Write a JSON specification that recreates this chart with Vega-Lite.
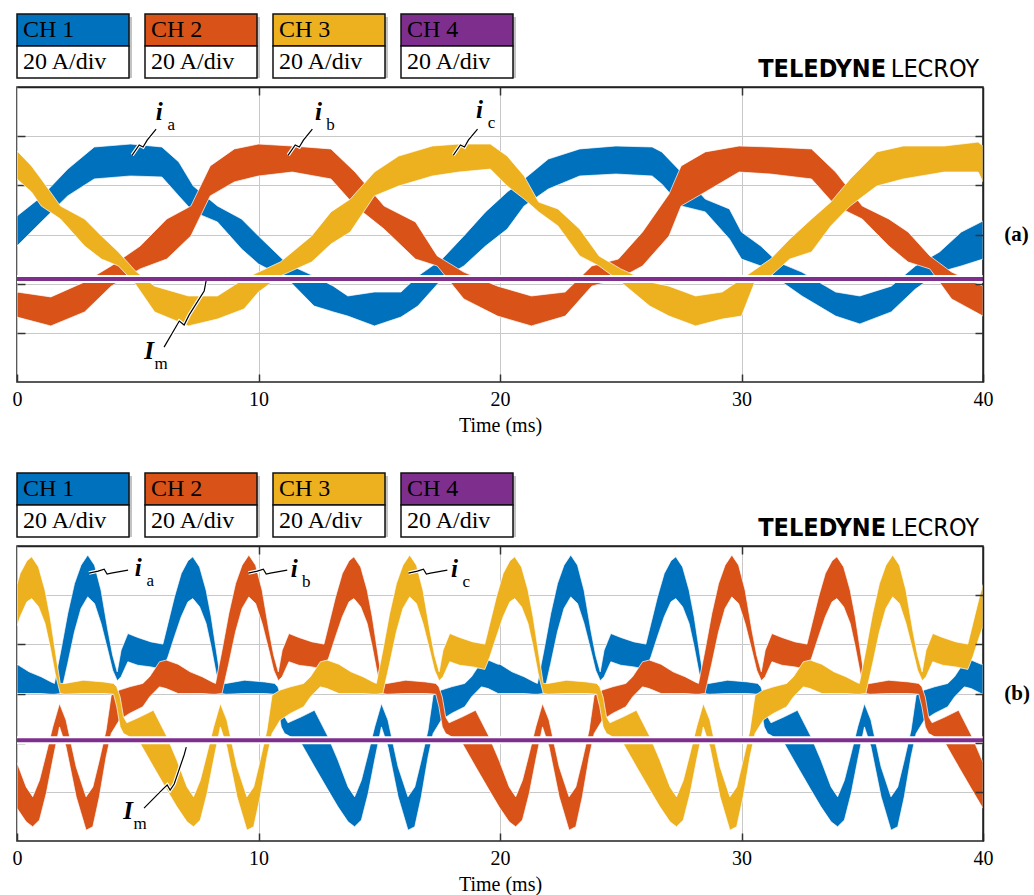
{
"$schema": "https://vega.github.io/schema/vega-lite/v6.json",
"padding": {"left": 11, "top": 13, "right": 0, "bottom": 0},
"background": "white",
"config": {"view": {"stroke": "#222222", "strokeWidth": 1.5}, "font": "Liberation Serif"},
"datasets": {
"one": [{"k": 1}],
"legend": [{"ch": "CH 1", "div": "20 A/div"}, {"ch": "CH 2", "div": "20 A/div"}, {"ch": "CH 3", "div": "20 A/div"}, {"ch": "CH 4", "div": "20 A/div"}],
"labels": [
{"panel": "a", "t": 5.89, "v": 49.8, "m": "i", "s": "a"},
{"panel": "a", "t": 12.48, "v": 49.8, "m": "i", "s": "b"},
{"panel": "a", "t": 19.15, "v": 50.6, "m": "i", "s": "c"},
{"panel": "a", "t": 5.47, "v": -47.4, "m": "I", "s": "m"},
{"panel": "b", "t": 5.02, "v": 51.1, "m": "i", "s": "a"},
{"panel": "b", "t": 11.48, "v": 50.6, "m": "i", "s": "b"},
{"panel": "b", "t": 18.11, "v": 50.6, "m": "i", "s": "c"},
{"panel": "b", "t": 4.6, "v": -47.8, "m": "I", "s": "m"}
],
"leaders": [
{"panel": "a", "id": "ia", "k": 1, "t": 4.77, "v": 32.3}, {"panel": "a", "id": "ia", "k": 2, "t": 5.06, "v": 36.4}, {"panel": "a", "id": "ia", "k": 3, "t": 5.22, "v": 35.6}, {"panel": "a", "id": "ia", "k": 4, "t": 5.39, "v": 38.4}, {"panel": "a", "id": "ia", "k": 5, "t": 5.76, "v": 42.9},
{"panel": "a", "id": "ib", "k": 1, "t": 11.23, "v": 32.3}, {"panel": "a", "id": "ib", "k": 2, "t": 11.52, "v": 36.4}, {"panel": "a", "id": "ib", "k": 3, "t": 11.69, "v": 35.6}, {"panel": "a", "id": "ib", "k": 4, "t": 11.86, "v": 38.4}, {"panel": "a", "id": "ib", "k": 5, "t": 12.23, "v": 42.9},
{"panel": "a", "id": "ic", "k": 1, "t": 18.07, "v": 32.3}, {"panel": "a", "id": "ic", "k": 2, "t": 18.36, "v": 36.4}, {"panel": "a", "id": "ic", "k": 3, "t": 18.53, "v": 35.6}, {"panel": "a", "id": "ic", "k": 4, "t": 18.69, "v": 38.4}, {"panel": "a", "id": "ic", "k": 5, "t": 19.07, "v": 42.9},
{"panel": "a", "id": "im", "k": 1, "t": 6.09, "v": -45.8}, {"panel": "a", "id": "im", "k": 2, "t": 6.72, "v": -35.2}, {"panel": "a", "id": "im", "k": 3, "t": 6.92, "v": -36.8}, {"panel": "a", "id": "im", "k": 4, "t": 7.13, "v": -32.7}, {"panel": "a", "id": "im", "k": 5, "t": 7.75, "v": -23.0}, {"panel": "a", "id": "im", "k": 6, "t": 7.83, "v": -18.9},
{"panel": "b", "id": "ia", "k": 1, "t": 2.98, "v": 49.0}, {"panel": "b", "id": "ia", "k": 2, "t": 3.36, "v": 49.8}, {"panel": "b", "id": "ia", "k": 3, "t": 3.61, "v": 50.6}, {"panel": "b", "id": "ia", "k": 4, "t": 3.73, "v": 48.6}, {"panel": "b", "id": "ia", "k": 5, "t": 3.9, "v": 49.0}, {"panel": "b", "id": "ia", "k": 6, "t": 4.6, "v": 50.2},
{"panel": "b", "id": "ib", "k": 1, "t": 9.58, "v": 49.0}, {"panel": "b", "id": "ib", "k": 2, "t": 9.95, "v": 49.8}, {"panel": "b", "id": "ib", "k": 3, "t": 10.2, "v": 50.6}, {"panel": "b", "id": "ib", "k": 4, "t": 10.32, "v": 48.6}, {"panel": "b", "id": "ib", "k": 5, "t": 10.49, "v": 49.0}, {"panel": "b", "id": "ib", "k": 6, "t": 11.19, "v": 50.2},
{"panel": "b", "id": "ic", "k": 1, "t": 16.21, "v": 49.0}, {"panel": "b", "id": "ic", "k": 2, "t": 16.58, "v": 49.8}, {"panel": "b", "id": "ic", "k": 3, "t": 16.83, "v": 50.6}, {"panel": "b", "id": "ic", "k": 4, "t": 16.95, "v": 48.6}, {"panel": "b", "id": "ic", "k": 5, "t": 17.12, "v": 49.0}, {"panel": "b", "id": "ic", "k": 6, "t": 17.82, "v": 50.2},
{"panel": "b", "id": "im", "k": 1, "t": 5.26, "v": -46.6}, {"panel": "b", "id": "im", "k": 2, "t": 6.05, "v": -38.8}, {"panel": "b", "id": "im", "k": 3, "t": 6.22, "v": -37.2}, {"panel": "b", "id": "im", "k": 4, "t": 6.34, "v": -39.3}, {"panel": "b", "id": "im", "k": 5, "t": 6.51, "v": -36.8}, {"panel": "b", "id": "im", "k": 6, "t": 6.92, "v": -25.0}, {"panel": "b", "id": "im", "k": 7, "t": 7.01, "v": -21.8}
],
"wa": [
{"p":"ia","t":0.0,"hi":7.5,"lo":-4.7},{"p":"ia","t":1.0,"hi":15.3,"lo":5.1},{"p":"ia","t":2.1,"hi":26.6,"lo":15.7},{"p":"ia","t":3.2,"hi":35.6,"lo":22.6},{"p":"ia","t":4.7,"hi":36.8,"lo":23.8},{"p":"ia","t":6.0,"hi":35.6,"lo":23.4},{"p":"ia","t":6.7,"hi":29.5,"lo":15.7},{"p":"ia","t":7.3,"hi":19.7,"lo":9.2},{"p":"ia","t":8.3,"hi":11.6,"lo":5.1},{"p":"ia","t":9.3,"hi":6.3,"lo":-5.9},{"p":"ia","t":10.0,"hi":-0.6,"lo":-12.0},{"p":"ia","t":11.2,"hi":-12.0,"lo":-18.1},{"p":"ia","t":12.3,"hi":-16.9,"lo":-29.1},{"p":"ia","t":13.1,"hi":-21.0,"lo":-31.5},{"p":"ia","t":13.7,"hi":-25.0,"lo":-33.2},{"p":"ia","t":14.8,"hi":-23.4,"lo":-37.2},{"p":"ia","t":15.9,"hi":-23.4,"lo":-33.6},{"p":"ia","t":16.6,"hi":-16.9,"lo":-29.1},{"p":"ia","t":17.6,"hi":-10.0,"lo":-18.1},{"p":"ia","t":18.5,"hi":-0.6,"lo":-12.8},{"p":"ia","t":19.4,"hi":9.2,"lo":-4.7},{"p":"ia","t":20.3,"hi":17.3,"lo":2.2},{"p":"ia","t":21.0,"hi":22.6,"lo":11.6},{"p":"ia","t":22.0,"hi":30.7,"lo":18.5},{"p":"ia","t":23.3,"hi":34.8,"lo":23.8},{"p":"ia","t":24.8,"hi":36.0,"lo":24.6},{"p":"ia","t":26.3,"hi":35.6,"lo":23.8},{"p":"ia","t":26.7,"hi":33.6,"lo":20.5},{"p":"ia","t":27.5,"hi":25.4,"lo":11.6},{"p":"ia","t":28.5,"hi":14.4,"lo":9.2},{"p":"ia","t":29.5,"hi":10.4,"lo":-1.8},{"p":"ia","t":30.0,"hi":1.0,"lo":-10.0},{"p":"ia","t":30.8,"hi":-4.7,"lo":-12.8},{"p":"ia","t":31.5,"hi":-11.2,"lo":-18.1},{"p":"ia","t":32.5,"hi":-15.3,"lo":-25.0},{"p":"ia","t":33.9,"hi":-23.4,"lo":-33.2},{"p":"ia","t":34.9,"hi":-25.0,"lo":-36.4},{"p":"ia","t":36.2,"hi":-21.0,"lo":-31.5},{"p":"ia","t":37.2,"hi":-12.8,"lo":-22.2},{"p":"ia","t":38.2,"hi":-7.1,"lo":-15.3},{"p":"ia","t":39.1,"hi":1.0,"lo":-12.8},{"p":"ia","t":40.0,"hi":5.5,"lo":-10.0},
{"p":"ib","t":0.0,"hi":-23.4,"lo":-33.6},{"p":"ib","t":1.4,"hi":-25.4,"lo":-37.2},{"p":"ib","t":2.8,"hi":-19.3,"lo":-31.5},{"p":"ib","t":3.9,"hi":-12.8,"lo":-21.0},{"p":"ib","t":5.1,"hi":-4.7,"lo":-14.0},{"p":"ib","t":6.2,"hi":6.3,"lo":-10.0},{"p":"ib","t":7.2,"hi":11.6,"lo":-0.6},{"p":"ib","t":8.0,"hi":27.9,"lo":15.7},{"p":"ib","t":9.0,"hi":34.8,"lo":21.4},{"p":"ib","t":10.0,"hi":36.8,"lo":23.8},{"p":"ib","t":11.4,"hi":36.0,"lo":25.4},{"p":"ib","t":13.0,"hi":34.8,"lo":22.6},{"p":"ib","t":14.0,"hi":25.4,"lo":11.6},{"p":"ib","t":15.2,"hi":11.6,"lo":2.2},{"p":"ib","t":16.5,"hi":5.1,"lo":-10.0},{"p":"ib","t":17.4,"hi":-8.7,"lo":-12.8},{"p":"ib","t":18.5,"hi":-15.3,"lo":-26.2},{"p":"ib","t":19.9,"hi":-21.0,"lo":-33.2},{"p":"ib","t":21.3,"hi":-25.0,"lo":-37.2},{"p":"ib","t":22.7,"hi":-23.4,"lo":-33.2},{"p":"ib","t":23.8,"hi":-12.8,"lo":-21.0},{"p":"ib","t":24.9,"hi":-10.0,"lo":-18.1},{"p":"ib","t":25.9,"hi":1.0,"lo":-12.8},{"p":"ib","t":27.0,"hi":16.5,"lo":-0.6},{"p":"ib","t":27.5,"hi":27.9,"lo":11.6},{"p":"ib","t":28.5,"hi":33.6,"lo":17.3},{"p":"ib","t":29.9,"hi":36.0,"lo":25.4},{"p":"ib","t":31.2,"hi":35.6,"lo":24.6},{"p":"ib","t":32.9,"hi":34.8,"lo":22.6},{"p":"ib","t":33.9,"hi":25.4,"lo":11.6},{"p":"ib","t":35.0,"hi":11.6,"lo":6.3},{"p":"ib","t":36.1,"hi":6.3,"lo":-4.7},{"p":"ib","t":36.9,"hi":1.0,"lo":-11.2},{"p":"ib","t":37.8,"hi":-8.7,"lo":-14.0},{"p":"ib","t":38.7,"hi":-15.3,"lo":-26.2},{"p":"ib","t":40.0,"hi":-21.0,"lo":-33.2},
{"p":"ic","t":0.0,"hi":34.0,"lo":22.6},{"p":"ic","t":0.6,"hi":27.9,"lo":17.3},{"p":"ic","t":1.0,"hi":22.6,"lo":11.6},{"p":"ic","t":1.8,"hi":11.6,"lo":6.3},{"p":"ic","t":2.8,"hi":6.3,"lo":-4.7},{"p":"ic","t":3.5,"hi":-0.6,"lo":-10.0},{"p":"ic","t":4.2,"hi":-7.1,"lo":-12.8},{"p":"ic","t":4.9,"hi":-14.8,"lo":-20.1},{"p":"ic","t":5.7,"hi":-21.0,"lo":-31.5},{"p":"ic","t":7.1,"hi":-25.0,"lo":-37.2},{"p":"ic","t":8.3,"hi":-25.0,"lo":-34.4},{"p":"ic","t":9.4,"hi":-18.1,"lo":-30.3},{"p":"ic","t":10.0,"hi":-15.3,"lo":-23.4},{"p":"ic","t":10.9,"hi":-11.2,"lo":-16.9},{"p":"ic","t":12.2,"hi":-0.6,"lo":-11.2},{"p":"ic","t":13.0,"hi":9.2,"lo":-3.9},{"p":"ic","t":13.8,"hi":14.4,"lo":1.0},{"p":"ic","t":14.8,"hi":25.4,"lo":15.7},{"p":"ic","t":15.8,"hi":31.9,"lo":19.7},{"p":"ic","t":17.2,"hi":36.0,"lo":23.8},{"p":"ic","t":18.3,"hi":36.8,"lo":25.4},{"p":"ic","t":19.6,"hi":36.8,"lo":26.6},{"p":"ic","t":20.3,"hi":31.9,"lo":19.7},{"p":"ic","t":21.0,"hi":23.8,"lo":14.4},{"p":"ic","t":21.6,"hi":13.2,"lo":9.2},{"p":"ic","t":22.4,"hi":10.4,"lo":3.5},{"p":"ic","t":23.3,"hi":2.2,"lo":-8.7},{"p":"ic","t":24.1,"hi":-8.7,"lo":-12.8},{"p":"ic","t":25.0,"hi":-14.0,"lo":-19.3},{"p":"ic","t":26.2,"hi":-19.3,"lo":-29.1},{"p":"ic","t":27.0,"hi":-21.0,"lo":-33.2},{"p":"ic","t":28.1,"hi":-25.0,"lo":-37.2},{"p":"ic","t":29.2,"hi":-23.4,"lo":-34.4},{"p":"ic","t":30.0,"hi":-18.1,"lo":-33.2},{"p":"ic","t":30.6,"hi":-14.0,"lo":-18.1},{"p":"ic","t":31.2,"hi":-10.0,"lo":-16.9},{"p":"ic","t":32.0,"hi":-1.8,"lo":-10.0},{"p":"ic","t":32.9,"hi":6.3,"lo":-7.1},{"p":"ic","t":33.7,"hi":13.2,"lo":3.5},{"p":"ic","t":34.5,"hi":22.6,"lo":11.6},{"p":"ic","t":35.6,"hi":33.6,"lo":19.7},{"p":"ic","t":36.7,"hi":36.0,"lo":22.6},{"p":"ic","t":38.4,"hi":36.0,"lo":25.4},{"p":"ic","t":39.8,"hi":37.6,"lo":25.4},{"p":"ic","t":40.0,"hi":36.0,"lo":21.4}
],
"wb": [
{"p":"ia","t":0.0,"hi":11.9,"lo":0},{"p":"ia","t":0.5,"hi":8.8,"lo":0},{"p":"ia","t":1.0,"hi":6.8,"lo":0},{"p":"ia","t":1.41,"hi":4.7,"lo":-0.3},{"p":"ia","t":1.55,"hi":4.1,"lo":-0.3},{"p":"ia","t":1.82,"hi":17.6,"lo":0},{"p":"ia","t":2.1,"hi":32.5,"lo":12.2},{"p":"ia","t":2.38,"hi":44.7,"lo":25.1},{"p":"ia","t":2.65,"hi":52.2,"lo":34.6},{"p":"ia","t":2.93,"hi":56.3,"lo":39.3},{"p":"ia","t":3.21,"hi":52.2,"lo":36.6},{"p":"ia","t":3.48,"hi":42.0,"lo":28.5},{"p":"ia","t":3.76,"hi":25.8,"lo":17.6},{"p":"ia","t":3.96,"hi":15.6,"lo":9.5},{"p":"ia","t":4.15,"hi":8.8,"lo":5.2},{"p":"ia","t":4.31,"hi":17.6,"lo":6.8},{"p":"ia","t":4.59,"hi":24.4,"lo":12.9},{"p":"ia","t":5.0,"hi":22.8,"lo":11.5},{"p":"ia","t":5.55,"hi":21.0,"lo":10.8},{"p":"ia","t":6.04,"hi":20.1,"lo":9.8},{"p":"ia","t":6.25,"hi":28.5,"lo":14.9},{"p":"ia","t":6.52,"hi":39.3,"lo":23.1},{"p":"ia","t":6.8,"hi":48.8,"lo":31.2},{"p":"ia","t":7.08,"hi":54.0,"lo":37.3},{"p":"ia","t":7.28,"hi":55.6,"lo":38.6},{"p":"ia","t":7.56,"hi":51.5,"lo":35.3},{"p":"ia","t":7.83,"hi":42.0,"lo":28.5},{"p":"ia","t":8.04,"hi":31.2,"lo":19.0},{"p":"ia","t":8.25,"hi":17.6,"lo":8.1},{"p":"ia","t":8.46,"hi":4.1,"lo":0},{"p":"ia","t":8.66,"hi":4.1,"lo":-0.3},{"p":"ia","t":9.42,"hi":5.4,"lo":0},{"p":"ia","t":10.25,"hi":4.7,"lo":0},{"p":"ia","t":10.67,"hi":4.1,"lo":-0.3},{"p":"ia","t":10.8,"hi":2.7,"lo":-5.4},{"p":"ia","t":10.94,"hi":-1.4,"lo":-13.6},{"p":"ia","t":11.08,"hi":-9.5,"lo":-16.3},{"p":"ia","t":11.22,"hi":-11.9,"lo":-17.0},{"p":"ia","t":11.77,"hi":-9.5,"lo":-20.3},{"p":"ia","t":12.32,"hi":-6.8,"lo":-29.8},{"p":"ia","t":12.88,"hi":-17.6,"lo":-39.3},{"p":"ia","t":13.29,"hi":-27.1,"lo":-46.1},{"p":"ia","t":13.71,"hi":-38.0,"lo":-52.2},{"p":"ia","t":13.98,"hi":-42.0,"lo":-54.2},{"p":"ia","t":14.26,"hi":-35.3,"lo":-51.5},{"p":"ia","t":14.54,"hi":-24.4,"lo":-40.7},{"p":"ia","t":14.81,"hi":-13.6,"lo":-27.1},{"p":"ia","t":15.09,"hi":-4.1,"lo":-13.6},{"p":"ia","t":15.36,"hi":-10.8,"lo":-21.7},{"p":"ia","t":15.78,"hi":-29.8,"lo":-42.0},{"p":"ia","t":16.19,"hi":-42.0,"lo":-55.6},{"p":"ia","t":16.47,"hi":-38.0,"lo":-54.2},{"p":"ia","t":16.74,"hi":-27.1,"lo":-42.0},{"p":"ia","t":17.02,"hi":-14.9,"lo":-25.8},{"p":"ia","t":17.23,"hi":-0.7,"lo":-16.3},{"p":"ia","t":17.57,"hi":1.4,"lo":-10.8},{"p":"ia","t":17.99,"hi":2.7,"lo":-8.1},{"p":"ia","t":18.54,"hi":4.1,"lo":-5.4},{"p":"ia","t":18.82,"hi":6.8,"lo":-1.4},{"p":"ia","t":19.23,"hi":12.9,"lo":2.7},{"p":"ia","t":19.51,"hi":13.6,"lo":2.0},{"p":"ia","t":19.92,"hi":11.9,"lo":0},
{"p":"ia","t":20.0,"hi":11.9,"lo":0},{"p":"ia","t":20.5,"hi":8.8,"lo":0},{"p":"ia","t":21.0,"hi":6.8,"lo":0},{"p":"ia","t":21.41,"hi":4.7,"lo":-0.3},{"p":"ia","t":21.55,"hi":4.1,"lo":-0.3},{"p":"ia","t":21.82,"hi":17.6,"lo":0},{"p":"ia","t":22.1,"hi":32.5,"lo":12.2},{"p":"ia","t":22.38,"hi":44.7,"lo":25.1},{"p":"ia","t":22.65,"hi":52.2,"lo":34.6},{"p":"ia","t":22.93,"hi":56.3,"lo":39.3},{"p":"ia","t":23.21,"hi":52.2,"lo":36.6},{"p":"ia","t":23.48,"hi":42.0,"lo":28.5},{"p":"ia","t":23.76,"hi":25.8,"lo":17.6},{"p":"ia","t":23.96,"hi":15.6,"lo":9.5},{"p":"ia","t":24.15,"hi":8.8,"lo":5.2},{"p":"ia","t":24.31,"hi":17.6,"lo":6.8},{"p":"ia","t":24.59,"hi":24.4,"lo":12.9},{"p":"ia","t":25.0,"hi":22.8,"lo":11.5},{"p":"ia","t":25.55,"hi":21.0,"lo":10.8},{"p":"ia","t":26.04,"hi":20.1,"lo":9.8},{"p":"ia","t":26.25,"hi":28.5,"lo":14.9},{"p":"ia","t":26.52,"hi":39.3,"lo":23.1},{"p":"ia","t":26.8,"hi":48.8,"lo":31.2},{"p":"ia","t":27.08,"hi":54.0,"lo":37.3},{"p":"ia","t":27.28,"hi":55.6,"lo":38.6},{"p":"ia","t":27.56,"hi":51.5,"lo":35.3},{"p":"ia","t":27.83,"hi":42.0,"lo":28.5},{"p":"ia","t":28.04,"hi":31.2,"lo":19.0},{"p":"ia","t":28.25,"hi":17.6,"lo":8.1},{"p":"ia","t":28.46,"hi":4.1,"lo":0},{"p":"ia","t":28.66,"hi":4.1,"lo":-0.3},{"p":"ia","t":29.42,"hi":5.4,"lo":0},{"p":"ia","t":30.25,"hi":4.7,"lo":0},{"p":"ia","t":30.67,"hi":4.1,"lo":-0.3},{"p":"ia","t":30.8,"hi":2.7,"lo":-5.4},{"p":"ia","t":30.94,"hi":-1.4,"lo":-13.6},{"p":"ia","t":31.08,"hi":-9.5,"lo":-16.3},{"p":"ia","t":31.22,"hi":-11.9,"lo":-17.0},{"p":"ia","t":31.77,"hi":-9.5,"lo":-20.3},{"p":"ia","t":32.32,"hi":-6.8,"lo":-29.8},{"p":"ia","t":32.88,"hi":-17.6,"lo":-39.3},{"p":"ia","t":33.29,"hi":-27.1,"lo":-46.1},{"p":"ia","t":33.71,"hi":-38.0,"lo":-52.2},{"p":"ia","t":33.98,"hi":-42.0,"lo":-54.2},{"p":"ia","t":34.26,"hi":-35.3,"lo":-51.5},{"p":"ia","t":34.54,"hi":-24.4,"lo":-40.7},{"p":"ia","t":34.81,"hi":-13.6,"lo":-27.1},{"p":"ia","t":35.09,"hi":-4.1,"lo":-13.6},{"p":"ia","t":35.36,"hi":-10.8,"lo":-21.7},{"p":"ia","t":35.78,"hi":-29.8,"lo":-42.0},{"p":"ia","t":36.19,"hi":-42.0,"lo":-55.6},{"p":"ia","t":36.47,"hi":-38.0,"lo":-54.2},{"p":"ia","t":36.74,"hi":-27.1,"lo":-42.0},{"p":"ia","t":37.02,"hi":-14.9,"lo":-25.8},{"p":"ia","t":37.23,"hi":-0.7,"lo":-16.3},{"p":"ia","t":37.57,"hi":1.4,"lo":-10.8},{"p":"ia","t":37.99,"hi":2.7,"lo":-8.1},{"p":"ia","t":38.54,"hi":4.1,"lo":-5.4},{"p":"ia","t":38.82,"hi":6.8,"lo":-1.4},{"p":"ia","t":39.23,"hi":12.9,"lo":2.7},{"p":"ia","t":39.51,"hi":13.6,"lo":2.0},{"p":"ia","t":39.92,"hi":11.9,"lo":0},{"p":"ia","t":40.0,"hi":11.9,"lo":0},
{"p":"ib","t":0.0,"hi":-28.1,"lo":-46.7},{"p":"ib","t":0.38,"hi":-38.0,"lo":-52.2},{"p":"ib","t":0.65,"hi":-42.0,"lo":-54.2},{"p":"ib","t":0.93,"hi":-35.3,"lo":-51.5},{"p":"ib","t":1.21,"hi":-24.4,"lo":-40.7},{"p":"ib","t":1.48,"hi":-13.6,"lo":-27.1},{"p":"ib","t":1.76,"hi":-4.1,"lo":-13.6},{"p":"ib","t":2.03,"hi":-10.8,"lo":-21.7},{"p":"ib","t":2.45,"hi":-29.8,"lo":-42.0},{"p":"ib","t":2.86,"hi":-42.0,"lo":-55.6},{"p":"ib","t":3.14,"hi":-38.0,"lo":-54.2},{"p":"ib","t":3.41,"hi":-27.1,"lo":-42.0},{"p":"ib","t":3.69,"hi":-14.9,"lo":-25.8},{"p":"ib","t":3.9,"hi":-0.7,"lo":-16.3},{"p":"ib","t":4.24,"hi":1.4,"lo":-10.8},{"p":"ib","t":4.66,"hi":2.7,"lo":-8.1},{"p":"ib","t":5.21,"hi":4.1,"lo":-5.4},{"p":"ib","t":5.49,"hi":6.8,"lo":-1.4},{"p":"ib","t":5.9,"hi":12.9,"lo":2.7},{"p":"ib","t":6.18,"hi":13.6,"lo":2.0},{"p":"ib","t":6.67,"hi":11.9,"lo":0},{"p":"ib","t":7.17,"hi":8.8,"lo":0},{"p":"ib","t":7.67,"hi":6.8,"lo":0},{"p":"ib","t":8.08,"hi":4.7,"lo":-0.3},{"p":"ib","t":8.22,"hi":4.1,"lo":-0.3},{"p":"ib","t":8.49,"hi":17.6,"lo":0},{"p":"ib","t":8.77,"hi":32.5,"lo":12.2},{"p":"ib","t":9.05,"hi":44.7,"lo":25.1},{"p":"ib","t":9.32,"hi":52.2,"lo":34.6},{"p":"ib","t":9.6,"hi":56.3,"lo":39.3},{"p":"ib","t":9.88,"hi":52.2,"lo":36.6},{"p":"ib","t":10.15,"hi":42.0,"lo":28.5},{"p":"ib","t":10.43,"hi":25.8,"lo":17.6},{"p":"ib","t":10.63,"hi":15.6,"lo":9.5},{"p":"ib","t":10.82,"hi":8.8,"lo":5.2},{"p":"ib","t":10.98,"hi":17.6,"lo":6.8},{"p":"ib","t":11.26,"hi":24.4,"lo":12.9},{"p":"ib","t":11.67,"hi":22.8,"lo":11.5},{"p":"ib","t":12.22,"hi":21.0,"lo":10.8},{"p":"ib","t":12.71,"hi":20.1,"lo":9.8},{"p":"ib","t":12.92,"hi":28.5,"lo":14.9},{"p":"ib","t":13.19,"hi":39.3,"lo":23.1},{"p":"ib","t":13.47,"hi":48.8,"lo":31.2},{"p":"ib","t":13.75,"hi":54.0,"lo":37.3},{"p":"ib","t":13.95,"hi":55.6,"lo":38.6},{"p":"ib","t":14.23,"hi":51.5,"lo":35.3},{"p":"ib","t":14.5,"hi":42.0,"lo":28.5},{"p":"ib","t":14.71,"hi":31.2,"lo":19.0},{"p":"ib","t":14.92,"hi":17.6,"lo":8.1},{"p":"ib","t":15.13,"hi":4.1,"lo":0},{"p":"ib","t":15.33,"hi":4.1,"lo":-0.3},{"p":"ib","t":16.09,"hi":5.4,"lo":0},{"p":"ib","t":16.92,"hi":4.7,"lo":0},{"p":"ib","t":17.34,"hi":4.1,"lo":-0.3},{"p":"ib","t":17.47,"hi":2.7,"lo":-5.4},{"p":"ib","t":17.61,"hi":-1.4,"lo":-13.6},{"p":"ib","t":17.75,"hi":-9.5,"lo":-16.3},{"p":"ib","t":17.89,"hi":-11.9,"lo":-17.0},{"p":"ib","t":18.44,"hi":-9.5,"lo":-20.3},{"p":"ib","t":18.99,"hi":-6.8,"lo":-29.8},{"p":"ib","t":19.55,"hi":-17.6,"lo":-39.3},{"p":"ib","t":19.96,"hi":-27.1,"lo":-46.1},
{"p":"ib","t":20.0,"hi":-28.1,"lo":-46.7},{"p":"ib","t":20.38,"hi":-38.0,"lo":-52.2},{"p":"ib","t":20.65,"hi":-42.0,"lo":-54.2},{"p":"ib","t":20.93,"hi":-35.3,"lo":-51.5},{"p":"ib","t":21.21,"hi":-24.4,"lo":-40.7},{"p":"ib","t":21.48,"hi":-13.6,"lo":-27.1},{"p":"ib","t":21.76,"hi":-4.1,"lo":-13.6},{"p":"ib","t":22.03,"hi":-10.8,"lo":-21.7},{"p":"ib","t":22.45,"hi":-29.8,"lo":-42.0},{"p":"ib","t":22.86,"hi":-42.0,"lo":-55.6},{"p":"ib","t":23.14,"hi":-38.0,"lo":-54.2},{"p":"ib","t":23.41,"hi":-27.1,"lo":-42.0},{"p":"ib","t":23.69,"hi":-14.9,"lo":-25.8},{"p":"ib","t":23.9,"hi":-0.7,"lo":-16.3},{"p":"ib","t":24.24,"hi":1.4,"lo":-10.8},{"p":"ib","t":24.66,"hi":2.7,"lo":-8.1},{"p":"ib","t":25.21,"hi":4.1,"lo":-5.4},{"p":"ib","t":25.49,"hi":6.8,"lo":-1.4},{"p":"ib","t":25.9,"hi":12.9,"lo":2.7},{"p":"ib","t":26.18,"hi":13.6,"lo":2.0},{"p":"ib","t":26.67,"hi":11.9,"lo":0},{"p":"ib","t":27.17,"hi":8.8,"lo":0},{"p":"ib","t":27.67,"hi":6.8,"lo":0},{"p":"ib","t":28.08,"hi":4.7,"lo":-0.3},{"p":"ib","t":28.22,"hi":4.1,"lo":-0.3},{"p":"ib","t":28.49,"hi":17.6,"lo":0},{"p":"ib","t":28.77,"hi":32.5,"lo":12.2},{"p":"ib","t":29.05,"hi":44.7,"lo":25.1},{"p":"ib","t":29.32,"hi":52.2,"lo":34.6},{"p":"ib","t":29.6,"hi":56.3,"lo":39.3},{"p":"ib","t":29.88,"hi":52.2,"lo":36.6},{"p":"ib","t":30.15,"hi":42.0,"lo":28.5},{"p":"ib","t":30.43,"hi":25.8,"lo":17.6},{"p":"ib","t":30.63,"hi":15.6,"lo":9.5},{"p":"ib","t":30.82,"hi":8.8,"lo":5.2},{"p":"ib","t":30.98,"hi":17.6,"lo":6.8},{"p":"ib","t":31.26,"hi":24.4,"lo":12.9},{"p":"ib","t":31.67,"hi":22.8,"lo":11.5},{"p":"ib","t":32.22,"hi":21.0,"lo":10.8},{"p":"ib","t":32.71,"hi":20.1,"lo":9.8},{"p":"ib","t":32.92,"hi":28.5,"lo":14.9},{"p":"ib","t":33.19,"hi":39.3,"lo":23.1},{"p":"ib","t":33.47,"hi":48.8,"lo":31.2},{"p":"ib","t":33.75,"hi":54.0,"lo":37.3},{"p":"ib","t":33.95,"hi":55.6,"lo":38.6},{"p":"ib","t":34.23,"hi":51.5,"lo":35.3},{"p":"ib","t":34.5,"hi":42.0,"lo":28.5},{"p":"ib","t":34.71,"hi":31.2,"lo":19.0},{"p":"ib","t":34.92,"hi":17.6,"lo":8.1},{"p":"ib","t":35.13,"hi":4.1,"lo":0},{"p":"ib","t":35.33,"hi":4.1,"lo":-0.3},{"p":"ib","t":36.09,"hi":5.4,"lo":0},{"p":"ib","t":36.92,"hi":4.7,"lo":0},{"p":"ib","t":37.34,"hi":4.1,"lo":-0.3},{"p":"ib","t":37.47,"hi":2.7,"lo":-5.4},{"p":"ib","t":37.61,"hi":-1.4,"lo":-13.6},{"p":"ib","t":37.75,"hi":-9.5,"lo":-16.3},{"p":"ib","t":37.89,"hi":-11.9,"lo":-17.0},{"p":"ib","t":38.44,"hi":-9.5,"lo":-20.3},{"p":"ib","t":38.99,"hi":-6.8,"lo":-29.8},{"p":"ib","t":39.55,"hi":-17.6,"lo":-39.3},{"p":"ib","t":39.96,"hi":-27.1,"lo":-46.1},{"p":"ib","t":40.0,"hi":-28.1,"lo":-46.7},
{"p":"ic","t":0.0,"hi":44.3,"lo":27.4},{"p":"ic","t":0.13,"hi":48.8,"lo":31.2},{"p":"ic","t":0.41,"hi":54.0,"lo":37.3},{"p":"ic","t":0.61,"hi":55.6,"lo":38.6},{"p":"ic","t":0.89,"hi":51.5,"lo":35.3},{"p":"ic","t":1.16,"hi":42.0,"lo":28.5},{"p":"ic","t":1.37,"hi":31.2,"lo":19.0},{"p":"ic","t":1.58,"hi":17.6,"lo":8.1},{"p":"ic","t":1.79,"hi":4.1,"lo":0},{"p":"ic","t":1.99,"hi":4.1,"lo":-0.3},{"p":"ic","t":2.75,"hi":5.4,"lo":0},{"p":"ic","t":3.58,"hi":4.7,"lo":0},{"p":"ic","t":4.0,"hi":4.1,"lo":-0.3},{"p":"ic","t":4.13,"hi":2.7,"lo":-5.4},{"p":"ic","t":4.27,"hi":-1.4,"lo":-13.6},{"p":"ic","t":4.41,"hi":-9.5,"lo":-16.3},{"p":"ic","t":4.55,"hi":-11.9,"lo":-17.0},{"p":"ic","t":5.1,"hi":-9.5,"lo":-20.3},{"p":"ic","t":5.65,"hi":-6.8,"lo":-29.8},{"p":"ic","t":6.21,"hi":-17.6,"lo":-39.3},{"p":"ic","t":6.62,"hi":-27.1,"lo":-46.1},{"p":"ic","t":7.04,"hi":-38.0,"lo":-52.2},{"p":"ic","t":7.31,"hi":-42.0,"lo":-54.2},{"p":"ic","t":7.59,"hi":-35.3,"lo":-51.5},{"p":"ic","t":7.87,"hi":-24.4,"lo":-40.7},{"p":"ic","t":8.14,"hi":-13.6,"lo":-27.1},{"p":"ic","t":8.42,"hi":-4.1,"lo":-13.6},{"p":"ic","t":8.69,"hi":-10.8,"lo":-21.7},{"p":"ic","t":9.11,"hi":-29.8,"lo":-42.0},{"p":"ic","t":9.52,"hi":-42.0,"lo":-55.6},{"p":"ic","t":9.8,"hi":-38.0,"lo":-54.2},{"p":"ic","t":10.07,"hi":-27.1,"lo":-42.0},{"p":"ic","t":10.35,"hi":-14.9,"lo":-25.8},{"p":"ic","t":10.56,"hi":-0.7,"lo":-16.3},{"p":"ic","t":10.9,"hi":1.4,"lo":-10.8},{"p":"ic","t":11.32,"hi":2.7,"lo":-8.1},{"p":"ic","t":11.87,"hi":4.1,"lo":-5.4},{"p":"ic","t":12.15,"hi":6.8,"lo":-1.4},{"p":"ic","t":12.56,"hi":12.9,"lo":2.7},{"p":"ic","t":12.84,"hi":13.6,"lo":2.0},{"p":"ic","t":13.33,"hi":11.9,"lo":0},{"p":"ic","t":13.83,"hi":8.8,"lo":0},{"p":"ic","t":14.33,"hi":6.8,"lo":0},{"p":"ic","t":14.74,"hi":4.7,"lo":-0.3},{"p":"ic","t":14.88,"hi":4.1,"lo":-0.3},{"p":"ic","t":15.15,"hi":17.6,"lo":0},{"p":"ic","t":15.43,"hi":32.5,"lo":12.2},{"p":"ic","t":15.71,"hi":44.7,"lo":25.1},{"p":"ic","t":15.98,"hi":52.2,"lo":34.6},{"p":"ic","t":16.26,"hi":56.3,"lo":39.3},{"p":"ic","t":16.54,"hi":52.2,"lo":36.6},{"p":"ic","t":16.81,"hi":42.0,"lo":28.5},{"p":"ic","t":17.09,"hi":25.8,"lo":17.6},{"p":"ic","t":17.29,"hi":15.6,"lo":9.5},{"p":"ic","t":17.48,"hi":8.8,"lo":5.2},{"p":"ic","t":17.64,"hi":17.6,"lo":6.8},{"p":"ic","t":17.92,"hi":24.4,"lo":12.9},{"p":"ic","t":18.33,"hi":22.8,"lo":11.5},{"p":"ic","t":18.88,"hi":21.0,"lo":10.8},{"p":"ic","t":19.37,"hi":20.1,"lo":9.8},{"p":"ic","t":19.58,"hi":28.5,"lo":14.9},{"p":"ic","t":19.85,"hi":39.3,"lo":23.1},
{"p":"ic","t":20.0,"hi":44.3,"lo":27.4},{"p":"ic","t":20.13,"hi":48.8,"lo":31.2},{"p":"ic","t":20.41,"hi":54.0,"lo":37.3},{"p":"ic","t":20.61,"hi":55.6,"lo":38.6},{"p":"ic","t":20.89,"hi":51.5,"lo":35.3},{"p":"ic","t":21.16,"hi":42.0,"lo":28.5},{"p":"ic","t":21.37,"hi":31.2,"lo":19.0},{"p":"ic","t":21.58,"hi":17.6,"lo":8.1},{"p":"ic","t":21.79,"hi":4.1,"lo":0},{"p":"ic","t":21.99,"hi":4.1,"lo":-0.3},{"p":"ic","t":22.75,"hi":5.4,"lo":0},{"p":"ic","t":23.58,"hi":4.7,"lo":0},{"p":"ic","t":24.0,"hi":4.1,"lo":-0.3},{"p":"ic","t":24.13,"hi":2.7,"lo":-5.4},{"p":"ic","t":24.27,"hi":-1.4,"lo":-13.6},{"p":"ic","t":24.41,"hi":-9.5,"lo":-16.3},{"p":"ic","t":24.55,"hi":-11.9,"lo":-17.0},{"p":"ic","t":25.1,"hi":-9.5,"lo":-20.3},{"p":"ic","t":25.65,"hi":-6.8,"lo":-29.8},{"p":"ic","t":26.21,"hi":-17.6,"lo":-39.3},{"p":"ic","t":26.62,"hi":-27.1,"lo":-46.1},{"p":"ic","t":27.04,"hi":-38.0,"lo":-52.2},{"p":"ic","t":27.31,"hi":-42.0,"lo":-54.2},{"p":"ic","t":27.59,"hi":-35.3,"lo":-51.5},{"p":"ic","t":27.87,"hi":-24.4,"lo":-40.7},{"p":"ic","t":28.14,"hi":-13.6,"lo":-27.1},{"p":"ic","t":28.42,"hi":-4.1,"lo":-13.6},{"p":"ic","t":28.69,"hi":-10.8,"lo":-21.7},{"p":"ic","t":29.11,"hi":-29.8,"lo":-42.0},{"p":"ic","t":29.52,"hi":-42.0,"lo":-55.6},{"p":"ic","t":29.8,"hi":-38.0,"lo":-54.2},{"p":"ic","t":30.07,"hi":-27.1,"lo":-42.0},{"p":"ic","t":30.35,"hi":-14.9,"lo":-25.8},{"p":"ic","t":30.56,"hi":-0.7,"lo":-16.3},{"p":"ic","t":30.9,"hi":1.4,"lo":-10.8},{"p":"ic","t":31.32,"hi":2.7,"lo":-8.1},{"p":"ic","t":31.87,"hi":4.1,"lo":-5.4},{"p":"ic","t":32.15,"hi":6.8,"lo":-1.4},{"p":"ic","t":32.56,"hi":12.9,"lo":2.7},{"p":"ic","t":32.84,"hi":13.6,"lo":2.0},{"p":"ic","t":33.33,"hi":11.9,"lo":0},{"p":"ic","t":33.83,"hi":8.8,"lo":0},{"p":"ic","t":34.33,"hi":6.8,"lo":0},{"p":"ic","t":34.74,"hi":4.7,"lo":-0.3},{"p":"ic","t":34.88,"hi":4.1,"lo":-0.3},{"p":"ic","t":35.15,"hi":17.6,"lo":0},{"p":"ic","t":35.43,"hi":32.5,"lo":12.2},{"p":"ic","t":35.71,"hi":44.7,"lo":25.1},{"p":"ic","t":35.98,"hi":52.2,"lo":34.6},{"p":"ic","t":36.26,"hi":56.3,"lo":39.3},{"p":"ic","t":36.54,"hi":52.2,"lo":36.6},{"p":"ic","t":36.81,"hi":42.0,"lo":28.5},{"p":"ic","t":37.09,"hi":25.8,"lo":17.6},{"p":"ic","t":37.29,"hi":15.6,"lo":9.5},{"p":"ic","t":37.48,"hi":8.8,"lo":5.2},{"p":"ic","t":37.64,"hi":17.6,"lo":6.8},{"p":"ic","t":37.92,"hi":24.4,"lo":12.9},{"p":"ic","t":38.33,"hi":22.8,"lo":11.5},{"p":"ic","t":38.88,"hi":21.0,"lo":10.8},{"p":"ic","t":39.37,"hi":20.1,"lo":9.8},{"p":"ic","t":39.58,"hi":28.5,"lo":14.9},{"p":"ic","t":39.85,"hi":39.3,"lo":23.1},{"p":"ic","t":40.0,"hi":44.3,"lo":27.4}
]
},
"spacing": 36,
"vconcat": [
{"spacing": 3, "vconcat": [
 {"width": 966, "height": 64, "view": {"stroke": null},
  "layer": [
   {"data": {"name": "legend"}, "mark": {"type": "rect", "fill": "#7a7a7a", "opacity": 0.45, "xOffset": 3, "x2Offset": 3, "yOffset": 3, "y2Offset": 3},
    "encoding": {"x": {"field": "ch", "type": "nominal", "scale": {"domain": ["CH 1","CH 2","CH 3","CH 4"], "range": [0, 496], "paddingInner": 0.125, "paddingOuter": 0}, "axis": null}}},
   {"data": {"name": "legend"}, "mark": {"type": "rect", "stroke": "#111111", "strokeWidth": 1.5},
    "encoding": {"x": {"field": "ch", "type": "nominal", "axis": null}, "y": {"datum": "head", "type": "nominal", "scale": {"domain": ["head","body"], "paddingInner": 0, "paddingOuter": 0}, "axis": null},
     "fill": {"field": "ch", "type": "nominal", "scale": {"domain": ["CH 1","CH 2","CH 3","CH 4"], "range": ["#0072BD","#D95319","#EDB120","#7E2F8E"]}, "legend": null}}},
   {"data": {"name": "legend"}, "mark": {"type": "rect", "fill": "#ffffff", "stroke": "#111111", "strokeWidth": 1.5},
    "encoding": {"x": {"field": "ch", "type": "nominal", "axis": null}, "y": {"datum": "body", "type": "nominal", "axis": null}}},
   {"data": {"name": "legend"}, "mark": {"type": "text", "align": "left", "baseline": "middle", "dx": 6, "font": "Liberation Serif", "fontSize": 24, "color": "#000000"},
    "encoding": {"x": {"field": "ch", "type": "nominal", "axis": null, "bandPosition": 0}, "y": {"datum": "head", "type": "nominal", "axis": null, "bandPosition": 0.5}, "text": {"field": "ch"}}},
   {"data": {"name": "legend"}, "mark": {"type": "text", "align": "left", "baseline": "middle", "dx": 6, "font": "Liberation Serif", "fontSize": 24, "color": "#000000"},
    "encoding": {"x": {"field": "ch", "type": "nominal", "axis": null, "bandPosition": 0}, "y": {"datum": "body", "type": "nominal", "axis": null, "bandPosition": 0.5}, "text": {"field": "div"}}},
   {"data": {"values": [{"brand": "TELEDYNE", "maker": "LECROY"}]}, "mark": {"type": "text", "align": "right", "baseline": "alphabetic", "dx": -4, "dy": -1, "font": "Liberation Sans Narrow, DejaVu Sans Condensed, Roboto Condensed, Liberation Sans", "fontSize": 25, "color": "#000000"},
    "encoding": {"x": {"value": "width"}, "y": {"value": "height"}, "text": {"field": "maker"}}},
   {"data": {"values": [{"brand": "TELEDYNE", "maker": "LECROY"}]}, "mark": {"type": "text", "align": "right", "baseline": "alphabetic", "dx": -97, "dy": -1, "font": "Liberation Sans Narrow, DejaVu Sans Condensed, Roboto Condensed, Liberation Sans", "fontSize": 25, "fontWeight": "bold", "color": "#000000"},
    "encoding": {"x": {"value": "width"}, "y": {"value": "height"}, "text": {"field": "brand"}}}
  ]},
 {"width": 966, "height": 295,
  "layer": [
   {"data": {"name": "wa"}, "mark": {"type": "area", "clip": true, "stroke": "#ffffff", "strokeWidth": 0.7},
    "encoding": {
     "x": {"field": "t", "type": "quantitative", "scale": {"domain": [0, 40], "nice": false, "zero": false},
      "axis": {"orient": "bottom", "values": [0,10,20,30,40], "grid": true, "gridColor": "#c8c8c8", "gridWidth": 1, "domain": false, "ticks": true, "tickSize": -8, "tickColor": "#333333", "tickWidth": 1.5, "labelFont": "Liberation Serif", "labelFontSize": 20, "labelColor": "#000000", "labelPadding": 15, "labelFlush": false, "labelOverlap": false, "format": "d", "title": "Time (ms)", "titleFont": "Liberation Serif", "titleFontSize": 20, "titleFontWeight": "normal", "titleColor": "#000000", "titlePadding": 6}},
     "y": {"field": "hi", "type": "quantitative", "scale": {"domain": [-60, 60], "nice": false, "zero": false},
      "axis": {"orient": "left", "values": [-40,-20,0,20,40], "grid": true, "gridColor": "#c8c8c8", "gridWidth": 1, "domain": false, "ticks": true, "tickSize": -8, "tickColor": "#333333", "tickWidth": 1.5, "labels": false, "title": null}},
     "y2": {"field": "lo"},
     "color": {"field": "p", "type": "nominal", "scale": {"domain": ["ia","ib","ic"], "range": ["#0072BD","#D95319","#EDB120"]}, "legend": null}
    }},
   {"data": {"name": "one"}, "mark": {"type": "rule", "color": "#ffffff", "strokeWidth": 8}, "encoding": {"y": {"datum": -18.1, "type": "quantitative", "axis": null}}},
   {"data": {"name": "one"}, "mark": {"type": "rule", "color": "#7E2F8E", "strokeWidth": 4}, "encoding": {"y": {"datum": -18.1, "type": "quantitative", "axis": null}}},
   {"data": {"name": "leaders"}, "transform": [{"filter": "datum.panel === 'a'"}], "mark": {"type": "line", "color": "#ffffff", "strokeWidth": 3.5},
    "encoding": {"x": {"field": "t", "type": "quantitative", "axis": null}, "y": {"field": "v", "type": "quantitative", "axis": null}, "detail": {"field": "id"}, "order": {"field": "k"}}},
   {"data": {"name": "leaders"}, "transform": [{"filter": "datum.panel === 'a'"}], "mark": {"type": "line", "color": "#000000", "strokeWidth": 1.2},
    "encoding": {
     "x": {"field": "t", "type": "quantitative", "axis": {"orient": "top", "values": [10,20,30], "grid": false, "domain": true, "domainColor": "#222222", "domainWidth": 1.5, "ticks": true, "tickSize": -8, "tickColor": "#333333", "tickWidth": 1.5, "labels": false, "title": null, "zindex": 1}},
     "y": {"field": "v", "type": "quantitative", "axis": {"orient": "right", "values": [-40,-20,0,20,40], "grid": false, "domain": true, "domainColor": "#222222", "domainWidth": 1.5, "ticks": true, "tickSize": -8, "tickColor": "#333333", "tickWidth": 1.5, "labels": false, "title": "(a)", "titleAngle": 0, "titleAlign": "left", "titleBaseline": "middle", "titleFont": "Liberation Serif", "titleFontSize": 21, "titleFontWeight": "bold", "titleColor": "#000000", "titlePadding": 20, "zindex": 1}},
     "detail": {"field": "id"}, "order": {"field": "k"}}},
   {"data": {"name": "labels"}, "transform": [{"filter": "datum.panel === 'a'"}], "mark": {"type": "text", "font": "Liberation Serif", "fontSize": 25, "fontStyle": "italic", "fontWeight": "bold", "align": "center", "baseline": "middle", "color": "#000000"},
    "encoding": {"x": {"field": "t", "type": "quantitative", "axis": null}, "y": {"field": "v", "type": "quantitative", "axis": null}, "text": {"field": "m"}}},
   {"data": {"name": "labels"}, "transform": [{"filter": "datum.panel === 'a'"}], "mark": {"type": "text", "font": "Liberation Serif", "fontSize": 17, "align": "center", "baseline": "middle", "dx": 12, "dy": 13, "color": "#000000"},
    "encoding": {"x": {"field": "t", "type": "quantitative", "axis": null}, "y": {"field": "v", "type": "quantitative", "axis": null}, "text": {"field": "s"}}}
  ],
  "resolve": {"axis": {"x": "independent", "y": "independent"}}}
]},
{"spacing": 3, "vconcat": [
 {"width": 966, "height": 64, "view": {"stroke": null},
  "layer": [
   {"data": {"name": "legend"}, "mark": {"type": "rect", "fill": "#7a7a7a", "opacity": 0.45, "xOffset": 3, "x2Offset": 3, "yOffset": 3, "y2Offset": 3},
    "encoding": {"x": {"field": "ch", "type": "nominal", "scale": {"domain": ["CH 1","CH 2","CH 3","CH 4"], "range": [0, 496], "paddingInner": 0.125, "paddingOuter": 0}, "axis": null}}},
   {"data": {"name": "legend"}, "mark": {"type": "rect", "stroke": "#111111", "strokeWidth": 1.5},
    "encoding": {"x": {"field": "ch", "type": "nominal", "axis": null}, "y": {"datum": "head", "type": "nominal", "scale": {"domain": ["head","body"], "paddingInner": 0, "paddingOuter": 0}, "axis": null},
     "fill": {"field": "ch", "type": "nominal", "scale": {"domain": ["CH 1","CH 2","CH 3","CH 4"], "range": ["#0072BD","#D95319","#EDB120","#7E2F8E"]}, "legend": null}}},
   {"data": {"name": "legend"}, "mark": {"type": "rect", "fill": "#ffffff", "stroke": "#111111", "strokeWidth": 1.5},
    "encoding": {"x": {"field": "ch", "type": "nominal", "axis": null}, "y": {"datum": "body", "type": "nominal", "axis": null}}},
   {"data": {"name": "legend"}, "mark": {"type": "text", "align": "left", "baseline": "middle", "dx": 6, "font": "Liberation Serif", "fontSize": 24, "color": "#000000"},
    "encoding": {"x": {"field": "ch", "type": "nominal", "axis": null, "bandPosition": 0}, "y": {"datum": "head", "type": "nominal", "axis": null, "bandPosition": 0.5}, "text": {"field": "ch"}}},
   {"data": {"name": "legend"}, "mark": {"type": "text", "align": "left", "baseline": "middle", "dx": 6, "font": "Liberation Serif", "fontSize": 24, "color": "#000000"},
    "encoding": {"x": {"field": "ch", "type": "nominal", "axis": null, "bandPosition": 0}, "y": {"datum": "body", "type": "nominal", "axis": null, "bandPosition": 0.5}, "text": {"field": "div"}}},
   {"data": {"values": [{"brand": "TELEDYNE", "maker": "LECROY"}]}, "mark": {"type": "text", "align": "right", "baseline": "alphabetic", "dx": -4, "dy": -1, "font": "Liberation Sans Narrow, DejaVu Sans Condensed, Roboto Condensed, Liberation Sans", "fontSize": 25, "color": "#000000"},
    "encoding": {"x": {"value": "width"}, "y": {"value": "height"}, "text": {"field": "maker"}}},
   {"data": {"values": [{"brand": "TELEDYNE", "maker": "LECROY"}]}, "mark": {"type": "text", "align": "right", "baseline": "alphabetic", "dx": -97, "dy": -1, "font": "Liberation Sans Narrow, DejaVu Sans Condensed, Roboto Condensed, Liberation Sans", "fontSize": 25, "fontWeight": "bold", "color": "#000000"},
    "encoding": {"x": {"value": "width"}, "y": {"value": "height"}, "text": {"field": "brand"}}}
  ]},
 {"width": 966, "height": 295,
  "layer": [
   {"data": {"name": "wb"}, "mark": {"type": "area", "clip": true, "stroke": "#ffffff", "strokeWidth": 0.7},
    "encoding": {
     "x": {"field": "t", "type": "quantitative", "scale": {"domain": [0, 40], "nice": false, "zero": false},
      "axis": {"orient": "bottom", "values": [0,10,20,30,40], "grid": true, "gridColor": "#c8c8c8", "gridWidth": 1, "domain": false, "ticks": true, "tickSize": -8, "tickColor": "#333333", "tickWidth": 1.5, "labelFont": "Liberation Serif", "labelFontSize": 20, "labelColor": "#000000", "labelPadding": 15, "labelFlush": false, "labelOverlap": false, "format": "d", "title": "Time (ms)", "titleFont": "Liberation Serif", "titleFontSize": 20, "titleFontWeight": "normal", "titleColor": "#000000", "titlePadding": 6}},
     "y": {"field": "hi", "type": "quantitative", "scale": {"domain": [-60, 60], "nice": false, "zero": false},
      "axis": {"orient": "left", "values": [-40,-20,0,20,40], "grid": true, "gridColor": "#c8c8c8", "gridWidth": 1, "domain": false, "ticks": true, "tickSize": -8, "tickColor": "#333333", "tickWidth": 1.5, "labels": false, "title": null}},
     "y2": {"field": "lo"},
     "color": {"field": "p", "type": "nominal", "scale": {"domain": ["ia","ib","ic"], "range": ["#0072BD","#D95319","#EDB120"]}, "legend": null}
    }},
   {"data": {"name": "one"}, "mark": {"type": "rule", "color": "#ffffff", "strokeWidth": 8}, "encoding": {"y": {"datum": -19.0, "type": "quantitative", "axis": null}}},
   {"data": {"name": "one"}, "mark": {"type": "rule", "color": "#7E2F8E", "strokeWidth": 4}, "encoding": {"y": {"datum": -19.0, "type": "quantitative", "axis": null}}},
   {"data": {"name": "leaders"}, "transform": [{"filter": "datum.panel === 'b'"}], "mark": {"type": "line", "color": "#ffffff", "strokeWidth": 3.5},
    "encoding": {"x": {"field": "t", "type": "quantitative", "axis": null}, "y": {"field": "v", "type": "quantitative", "axis": null}, "detail": {"field": "id"}, "order": {"field": "k"}}},
   {"data": {"name": "leaders"}, "transform": [{"filter": "datum.panel === 'b'"}], "mark": {"type": "line", "color": "#000000", "strokeWidth": 1.2},
    "encoding": {
     "x": {"field": "t", "type": "quantitative", "axis": {"orient": "top", "values": [10,20,30], "grid": false, "domain": true, "domainColor": "#222222", "domainWidth": 1.5, "ticks": true, "tickSize": -8, "tickColor": "#333333", "tickWidth": 1.5, "labels": false, "title": null, "zindex": 1}},
     "y": {"field": "v", "type": "quantitative", "axis": {"orient": "right", "values": [-40,-20,0,20,40], "grid": false, "domain": true, "domainColor": "#222222", "domainWidth": 1.5, "ticks": true, "tickSize": -8, "tickColor": "#333333", "tickWidth": 1.5, "labels": false, "title": "(b)", "titleAngle": 0, "titleAlign": "left", "titleBaseline": "middle", "titleFont": "Liberation Serif", "titleFontSize": 21, "titleFontWeight": "bold", "titleColor": "#000000", "titlePadding": 20, "zindex": 1}},
     "detail": {"field": "id"}, "order": {"field": "k"}}},
   {"data": {"name": "labels"}, "transform": [{"filter": "datum.panel === 'b'"}], "mark": {"type": "text", "font": "Liberation Serif", "fontSize": 25, "fontStyle": "italic", "fontWeight": "bold", "align": "center", "baseline": "middle", "color": "#000000"},
    "encoding": {"x": {"field": "t", "type": "quantitative", "axis": null}, "y": {"field": "v", "type": "quantitative", "axis": null}, "text": {"field": "m"}}},
   {"data": {"name": "labels"}, "transform": [{"filter": "datum.panel === 'b'"}], "mark": {"type": "text", "font": "Liberation Serif", "fontSize": 17, "align": "center", "baseline": "middle", "dx": 12, "dy": 13, "color": "#000000"},
    "encoding": {"x": {"field": "t", "type": "quantitative", "axis": null}, "y": {"field": "v", "type": "quantitative", "axis": null}, "text": {"field": "s"}}}
  ],
  "resolve": {"axis": {"x": "independent", "y": "independent"}}}
]}
]
}
